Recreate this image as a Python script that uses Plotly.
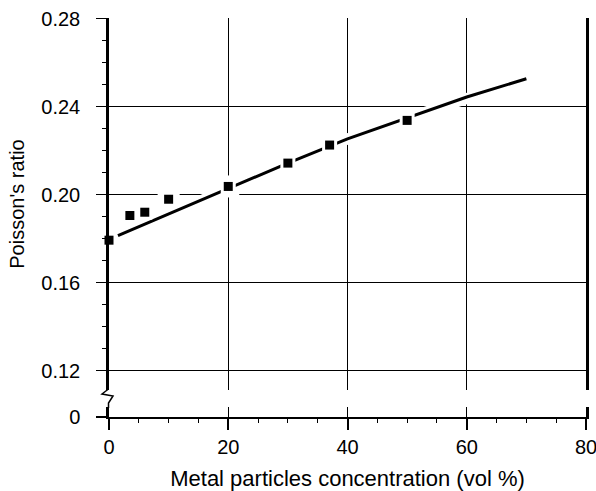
import plotly.graph_objects as go

# ---- data ----
conc = [0, 3.5, 6, 10, 20, 30, 37, 50]
poisson = [0.1794, 0.1906, 0.1921, 0.1980, 0.2038, 0.2144, 0.2226, 0.2338]

fit_conc = [1.5, 10, 20, 30, 40, 50, 60, 70]
fit_poisson = [0.1815, 0.1913, 0.2030, 0.2144, 0.2254, 0.2348, 0.2444, 0.2527]

x_ticks = [0, 20, 40, 60, 80]
y_ticks = [0.12, 0.16, 0.20, 0.24, 0.28]
y_ticktext = ["0.12", "0.16", "0.20", "0.24", "0.28"]

# ---- layout geometry ----
W, H = 596, 491
L, R, T, B = 109, 10, 18, 74
PW, PH = W - L - R, H - T - B
BOTTOM_PX = H - B          # pixel of the "0" line
TOP_DOM_BOTTOM_PX = 390    # lower end of the upper panel
LOW_DOM_TOP_PX = 407       # upper end of the lower panel


def py2paper(py):
    return (BOTTOM_PX - py) / PH


def px2paper(px):
    return (px - L) / PW


FONT = "Liberation Sans, Arial, sans-serif"

fig = go.Figure()

# white halos (cut the grid lines around the data, as in the print)
fig.add_trace(go.Scatter(x=fit_conc, y=fit_poisson, xaxis="x2", yaxis="y",
                         mode="lines", line=dict(color="white", width=11),
                         hoverinfo="skip", showlegend=False))
fig.add_trace(go.Scatter(x=conc, y=poisson, xaxis="x2", yaxis="y",
                         mode="markers", cliponaxis=False,
                         marker=dict(symbol="square", size=22, color="white"),
                         hoverinfo="skip", showlegend=False))
# fitted line
fig.add_trace(go.Scatter(x=fit_conc, y=fit_poisson, xaxis="x2", yaxis="y",
                         mode="lines", line=dict(color="black", width=3),
                         showlegend=False))
# gap around markers
fig.add_trace(go.Scatter(x=conc, y=poisson, xaxis="x2", yaxis="y",
                         mode="markers", cliponaxis=False,
                         marker=dict(symbol="square", size=15, color="white"),
                         hoverinfo="skip", showlegend=False))
# data markers
fig.add_trace(go.Scatter(x=conc, y=poisson, xaxis="x2", yaxis="y",
                         mode="markers", cliponaxis=False,
                         marker=dict(symbol="square", size=9, color="black"),
                         showlegend=False))
# empty trace so the lower (broken-axis) panel exists
fig.add_trace(go.Scatter(x=[None], y=[None], xaxis="x", yaxis="y2",
                         mode="markers", hoverinfo="skip", showlegend=False))

top_dom = [py2paper(TOP_DOM_BOTTOM_PX), 1]
low_dom = [0, py2paper(LOW_DOM_TOP_PX)]
y_bottom = 0.12 - (TOP_DOM_BOTTOM_PX - 371) / 88 * 0.04

# zig-zag axis break
pts = [(108.5, TOP_DOM_BOTTOM_PX - 1), (102, 394), (113, 396), (108.5, 403),
       (108.5, LOW_DOM_TOP_PX + 1)]
path = "M " + " L ".join(f"{px2paper(a):.5f},{py2paper(b):.5f}" for a, b in pts)

fig.update_layout(
    width=W, height=H,
    margin=dict(l=L, r=R, t=T, b=B, pad=0, autoexpand=False),
    paper_bgcolor="white", plot_bgcolor="white",
    font=dict(family=FONT, size=20, color="black"),
    xaxis=dict(
        anchor="y2", domain=[0, 1], range=[0, 80], automargin=False,
        tickvals=x_ticks, ticks="outside", ticklen=11, tickwidth=1.5,
        tickcolor="black", ticklabeloverflow="allow",
        minor=dict(dtick=5, ticks="outside", ticklen=4, tickwidth=1,
                   tickcolor="black", showgrid=False),
        showgrid=True, gridcolor="black", gridwidth=1,
        showline=True, linecolor="black", linewidth=1.5,
        zeroline=False,
        tickfont=dict(size=20),
        title=dict(text="Metal particles concentration (vol %)",
                   font=dict(size=22), standoff=20),
    ),
    xaxis2=dict(
        anchor="y", matches="x", domain=[0, 1], range=[0, 80], automargin=False,
        tickvals=x_ticks, showticklabels=False, ticks="",
        showgrid=True, gridcolor="black", gridwidth=1,
        showline=False, zeroline=False,
    ),
    yaxis=dict(
        anchor="x2", domain=top_dom, range=[y_bottom, 0.2803], automargin=False,
        tickvals=y_ticks, ticktext=y_ticktext,
        ticks="outside", ticklen=10, tickwidth=1, tickcolor="black",
        minor=dict(dtick=0.01, tick0=0.12, ticks="outside", ticklen=4,
                   tickwidth=1, tickcolor="black", showgrid=False),
        showgrid=True, gridcolor="black", gridwidth=1,
        showline=True, linecolor="black", linewidth=2.5, mirror=True,
        zeroline=False, ticklabelstandoff=12,
        tickfont=dict(size=20),
        title=dict(text="Poisson's ratio", font=dict(size=20), standoff=12),
    ),
    yaxis2=dict(
        anchor="x", domain=low_dom, range=[0, 1], automargin=False,
        tickvals=[0], ticktext=["0"],
        ticks="outside", ticklen=10, tickwidth=1.5, tickcolor="black",
        showgrid=False,
        showline=True, linecolor="black", linewidth=2.5, mirror=True,
        zeroline=False, ticklabelstandoff=12,
        tickfont=dict(size=20),
    ),
    shapes=[dict(type="path", xref="paper", yref="paper", path=path,
                 line=dict(color="black", width=1.5), layer="above")],
)

fig.write_html(
    "out.html",
    config={"displayModeBar": False},
    post_script="document.body.style.margin='0px';"
                "document.body.style.overflow='hidden';",
)
